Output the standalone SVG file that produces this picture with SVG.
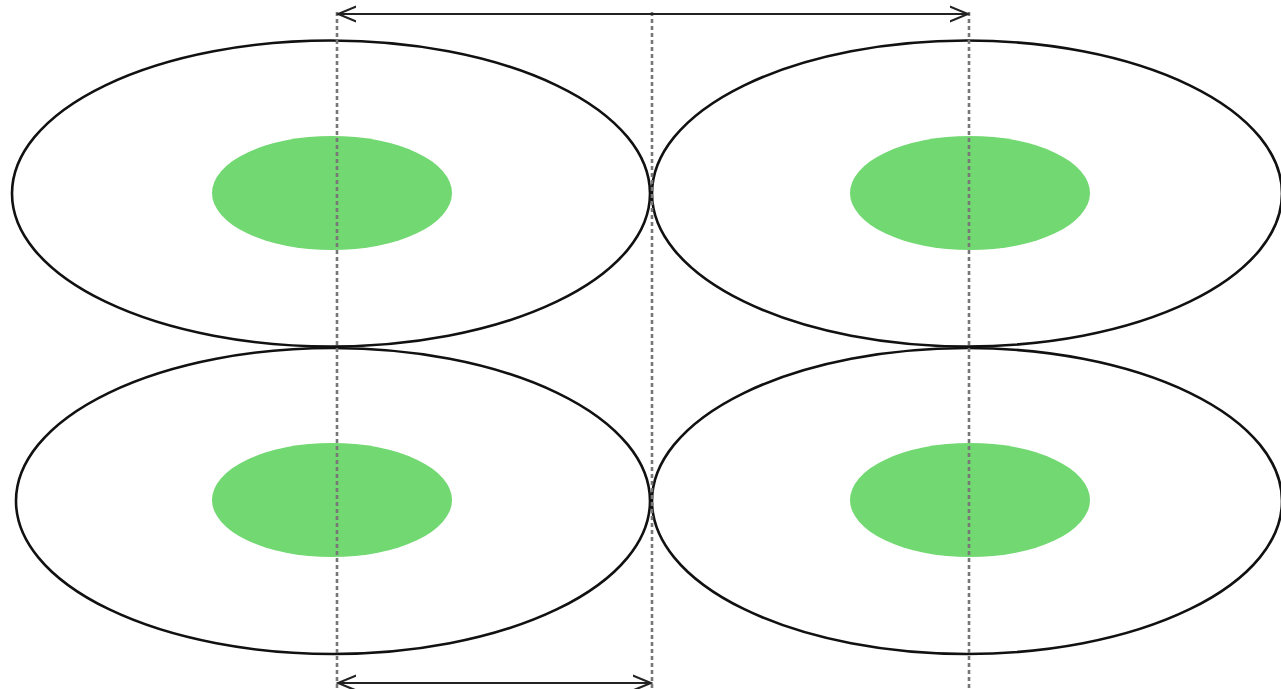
<svg xmlns="http://www.w3.org/2000/svg" width="1281" height="689" viewBox="0 0 1281 689">
<defs>
<style>
.cell{fill:none;stroke:#111;stroke-width:2.6}
.nuc{fill:#72d872;stroke:none}
.guide{stroke:#777;stroke-width:2.6;stroke-dasharray:4 3;fill:none}
.dim{stroke:#222;stroke-width:2.2;fill:none}
</style>
<marker id="ah" viewBox="0 0 12 12" refX="11" refY="6" markerWidth="20" markerHeight="20" markerUnits="userSpaceOnUse" orient="auto-start-reverse">
<path d="M0,1.5 L11,6 L0,10.5" fill="none" stroke="#222" stroke-width="1.3"/>
</marker>
</defs>
<rect width="1281" height="689" fill="#fff"/>
<g id="cell-top-left"><ellipse class="cell" cx="331" cy="193.5" rx="319" ry="153"/><ellipse class="nuc" cx="332" cy="193" rx="120" ry="57"/></g>
<g id="cell-top-right"><ellipse class="cell" cx="967" cy="193.5" rx="315" ry="153"/><ellipse class="nuc" cx="970" cy="193" rx="120" ry="57"/></g>
<g id="cell-bottom-left"><ellipse class="cell" cx="333" cy="501" rx="317" ry="153"/><ellipse class="nuc" cx="332" cy="500" rx="120" ry="57"/></g>
<g id="cell-bottom-right"><ellipse class="cell" cx="967" cy="501" rx="315" ry="153"/><ellipse class="nuc" cx="970" cy="500" rx="120" ry="57"/></g>
<g id="connectors">
<line class="guide" x1="337" y1="12" x2="337" y2="689"/>
<line class="guide" x1="652" y1="12" x2="652" y2="689"/>
<line class="guide" x1="969" y1="12" x2="969" y2="689"/>
<line class="dim" x1="338" y1="14" x2="968" y2="14" marker-start="url(#ah)" marker-end="url(#ah)"/>
<line class="dim" x1="338" y1="683" x2="651" y2="683" marker-start="url(#ah)" marker-end="url(#ah)"/>
</g>
</svg>
